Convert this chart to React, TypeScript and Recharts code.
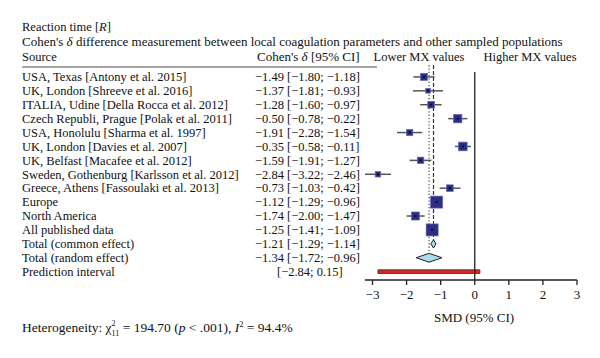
import React from 'react';
import {
  ComposedChart,
  Scatter,
  XAxis,
  YAxis,
  ZAxis,
  ErrorBar,
  ReferenceLine,
  ReferenceArea,
} from 'recharts';

const FONT = '"Liberation Serif", "Times New Roman", serif';
const FS = 12.5;

// rows, top to bottom
const sources = [
  'USA, Texas [Antony et al. 2015]',
  'UK, London [Shreeve et al. 2016]',
  'ITALIA, Udine [Della Rocca et al. 2012]',
  'Czech Republi, Prague [Polak et al. 2011]',
  'USA, Honolulu [Sharma et al. 1997]',
  'UK, London [Davies et al. 2007]',
  'UK, Belfast [Macafee et al. 2012]',
  'Sweden, Gothenburg [Karlsson et al. 2012]',
  'Greece, Athens [Fassoulaki et al. 2013]',
  'Europe',
  'North America',
  'All published data',
  'Total (common effect)',
  'Total (random effect)',
  'Prediction interval',
];
const estimates = [-1.49, -1.37, -1.28, -0.5, -1.91, -0.35, -1.59, -2.84, -0.73, -1.12, -1.74, -1.25, -1.21, -1.34, null];
const lowers = [-1.8, -1.81, -1.6, -0.78, -2.28, -0.58, -1.91, -3.22, -1.03, -1.29, -2.0, -1.41, -1.29, -1.72, -2.84];
const uppers = [-1.18, -0.93, -0.97, -0.22, -1.54, -0.11, -1.27, -2.46, -0.42, -0.96, -1.47, -1.09, -1.14, -0.96, 0.15];
// relative weights of the square markers (studies + subgroups)
const weights = [49, 22, 45, 70, 40, 75, 42, 30, 45, 144, 64, 144];

const xTicks = [-3, -2, -1, 0, 1, 2, 3];
const COMMON = -1.21;
const RANDOM = -1.34;

const fmt = (v: number) => (v < 0 ? '\u2212' + Math.abs(v).toFixed(2) : v.toFixed(2));

const squareData = weights.map((w, i) => ({
  row: i,
  est: estimates[i] as number,
  w,
  err: [(estimates[i] as number) - lowers[i], uppers[i] - (estimates[i] as number)],
}));

const rowTicks = sources.map((_, i) => i);

function RowLabel(props: any) {
  const { y, payload } = props;
  const i = payload.value as number;
  const est = estimates[i];
  const ci = `[${fmt(lowers[i])}; ${fmt(uppers[i])}]`;
  return (
    <g fontFamily={FONT} fontSize={FS} fill="#111">
      <text x={22} y={y + 4.3}>{sources[i]}</text>
      {est != null ? (
        <text x={255} y={y + 4.3}>{`${fmt(est)} ${ci}`}</text>
      ) : (
        <text x={277} y={y + 4.3}>{ci}</text>
      )}
    </g>
  );
}

function SquareMark(props: any) {
  const { cx, cy, width } = props;
  const s = width || 6;
  return (
    <g>
      <rect x={cx - s / 2} y={cy - s / 2} width={s} height={s} fill="#2b2d86" stroke="#6668b8" strokeWidth={0.7} />
      <rect x={cx - 1} y={cy - 1} width={2} height={2} fill="#111" />
    </g>
  );
}

function diamondShape(est: number, lo: number, hi: number) {
  return (props: any) => {
    const x = Math.min(props.x, props.x + props.width);
    const w = Math.abs(props.width);
    const y = Math.min(props.y, props.y + props.height);
    const h = Math.abs(props.height);
    const mx = x + (w * (est - lo)) / (hi - lo);
    const my = y + h / 2;
    return (
      <polygon
        points={`${x},${my} ${mx},${y} ${x + w},${my} ${mx},${y + h}`}
        fill="#a9dced"
        stroke="#222"
        strokeWidth={1}
      />
    );
  };
}

function XTick(props: any) {
  const { x, y, payload } = props;
  const v = payload.value as number;
  return (
    <text x={x} y={y + 12} textAnchor="middle" fontFamily={FONT} fontSize={13} fill="#111">
      {v < 0 ? '\u2212' + Math.abs(v) : String(v)}
    </text>
  );
}

export default function App() {
  return (
    <div style={{ position: 'absolute', left: 0, top: 0, width: 600, height: 358, background: '#fff' }}>
      <ComposedChart
        width={600}
        height={358}
        margin={{ top: 63, right: 23, bottom: 53, left: 0 }}
      >
        <text x={22} y={31} fontFamily={FONT} fontSize={FS} fill="#111">
          Reaction time [<tspan fontStyle="italic">R</tspan>]
        </text>
        <text x={22} y={46} fontFamily={FONT} fontSize={13} fill="#111">
          Cohen's <tspan fontStyle="italic">δ</tspan> difference measurement between local coagulation parameters and other sampled populations
        </text>
        <text x={22} y={61} fontFamily={FONT} fontSize={FS} fill="#111">Source</text>
        <text x={257} y={61} fontFamily={FONT} fontSize={13} fill="#111">
          Cohen's <tspan fontStyle="italic">δ</tspan> [95% CI]
        </text>
        <text x={419} y={61} textAnchor="middle" fontFamily={FONT} fontSize={FS} fill="#111">Lower MX values</text>
        <text x={530} y={61} textAnchor="middle" fontFamily={FONT} fontSize={FS} fill="#111">Higher MX values</text>
        <line x1={22} x2={377} y1={67} y2={67} stroke="#888" strokeWidth={1.5} />

        <XAxis
          type="number"
          dataKey="est"
          domain={[-3, 3]}
          ticks={xTicks}
          interval={0}
          height={25}
          stroke="#222"
          strokeWidth={1.3}
          tickSize={5}
          tick={<XTick />}
        />
        <YAxis
          type="number"
          dataKey="row"
          domain={[-1, 14.6]}
          reversed
          ticks={rowTicks}
          interval={0}
          width={365}
          axisLine={false}
          tickLine={false}
          tick={<RowLabel />}
        />
        <ZAxis type="number" dataKey="w" domain={[0, 144]} range={[0, 113.1]} />

        <ReferenceLine segment={[{ x: 0, y: -0.35 }, { x: 0, y: 14.6 }]} stroke="#222" strokeWidth={1.3} />
        <ReferenceLine
          segment={[{ x: COMMON, y: -0.85 }, { x: COMMON, y: 11.7 }]}
          stroke="#333"
          strokeWidth={1.2}
          strokeDasharray="4 2"
        />
        <ReferenceLine
          segment={[{ x: RANDOM, y: -0.85 }, { x: RANDOM, y: 12.7 }]}
          stroke="#555"
          strokeWidth={1.2}
          strokeDasharray="1.3 2"
        />

        <Scatter data={squareData} shape={<SquareMark />} isAnimationActive={false}>
          <ErrorBar dataKey="err" direction="x" width={0} stroke="#555" strokeWidth={1.5} />
        </Scatter>

        <ReferenceArea
          x1={lowers[12]}
          x2={uppers[12]}
          y1={11.7}
          y2={12.3}
          shape={diamondShape(estimates[12] as number, lowers[12], uppers[12])}
        />
        <ReferenceArea
          x1={lowers[13]}
          x2={uppers[13]}
          y1={12.68}
          y2={13.32}
          shape={diamondShape(estimates[13] as number, lowers[13], uppers[13])}
        />
        <ReferenceArea
          x1={lowers[14]}
          x2={uppers[14]}
          y1={13.87}
          y2={14.13}
          fill="#e3211f"
          fillOpacity={1}
          stroke="#444"
          strokeWidth={1}
          ifOverflow="visible"
        />

        <text x={474} y={322} textAnchor="middle" fontFamily={FONT} fontSize={13} fill="#111">SMD (95% CI)</text>
        <text x={22} y={332} fontFamily={FONT} fontSize={13.5} fill="#111">
          Heterogeneity: χ
          <tspan fontSize={8} dy={-6}>2</tspan>
          <tspan fontSize={8} dx={-4} dy={10}>11</tspan>
          <tspan dy={-4}> = 194.70 (</tspan>
          <tspan fontStyle="italic">p</tspan>
          <tspan> &lt; .001), </tspan>
          <tspan fontStyle="italic">I</tspan>
          <tspan fontSize={8.5} dy={-5}>2</tspan>
          <tspan dy={5}> = 94.4%</tspan>
        </text>
      </ComposedChart>
    </div>
  );
}
